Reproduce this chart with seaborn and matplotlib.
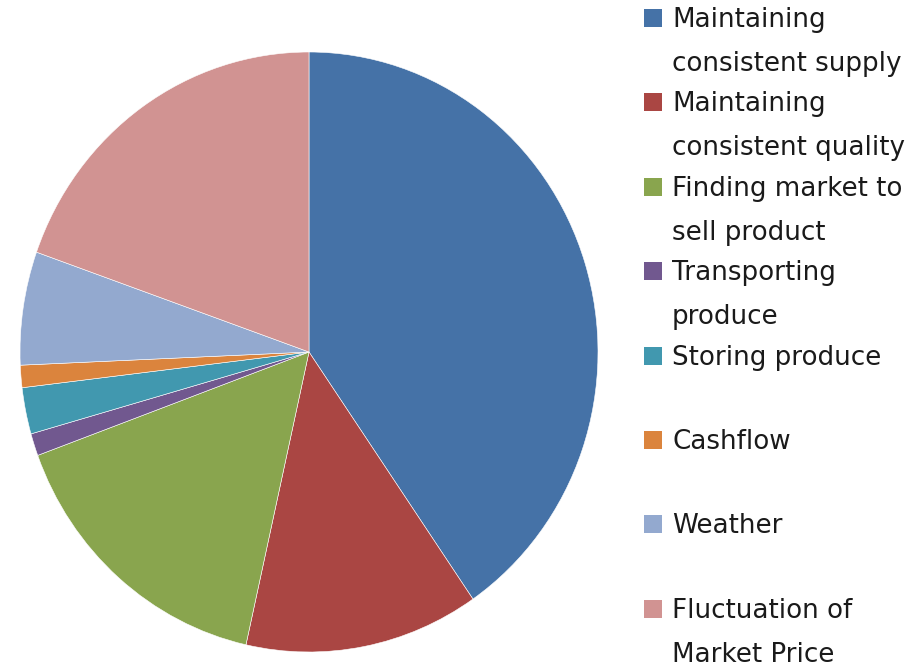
import matplotlib
matplotlib.use("Agg")
import matplotlib.pyplot as plt
from matplotlib.patches import Rectangle
import seaborn as sns

# Werte (Anteile in %)
categories = ["Maintaining\nconsistent supply", "Maintaining\nconsistent quality",
              "Finding market to\nsell product", "Transporting\nproduce",
              "Storing produce", "Cashflow", "Weather",
              "Fluctuation of\nMarket Price"]
shares = [40.4, 13.1, 15.9, 1.2, 2.5, 1.2, 6.1, 19.6]
colors = ["#4572A7", "#AA4643", "#89A54E", "#71588F",
          "#4198AF", "#DB843D", "#93A9CF", "#D19392"]

sns.set_theme(style="white")
plt.rcParams['font.family'] = ['DejaVu Sans']
palette = sns.color_palette(colors)

W, H = 918, 666
fig = plt.figure(figsize=(W / 100, H / 100), dpi=100)

# Kreis leicht gestaucht wie im Original
ax = fig.add_axes([20 / W, (H - 652) / H, 578 / W, 600 / H])
ax.pie(shares, colors=palette, startangle=90, counterclock=False,
       wedgeprops=dict(edgecolor="white", linewidth=0.4))
ax.set_aspect("auto")
ax.set_xlim(-1, 1)
ax.set_ylim(-1, 1)

# Legende von Hand, gleiche Abstände wie im Original
y0, step, line_h = 18, 84.4, 44
for i, (lab, col) in enumerate(zip(categories, palette)):
    yc = y0 + i * step
    fig.patches.append(Rectangle((644 / W, 1 - (yc + 9) / H), 18 / W, 18 / H,
                                 transform=fig.transFigure, facecolor=col,
                                 edgecolor="none"))
    # jede Zeile einzeln setzen
    for k, line in enumerate(lab.split("\n")):
        base = yc + 9 + k * line_h
        fig.text(672 / W, 1 - base / H, line, fontsize=18.8, color="#1a1a1a",
                 va="baseline", ha="left")

fig.savefig("out.png", dpi=100)
